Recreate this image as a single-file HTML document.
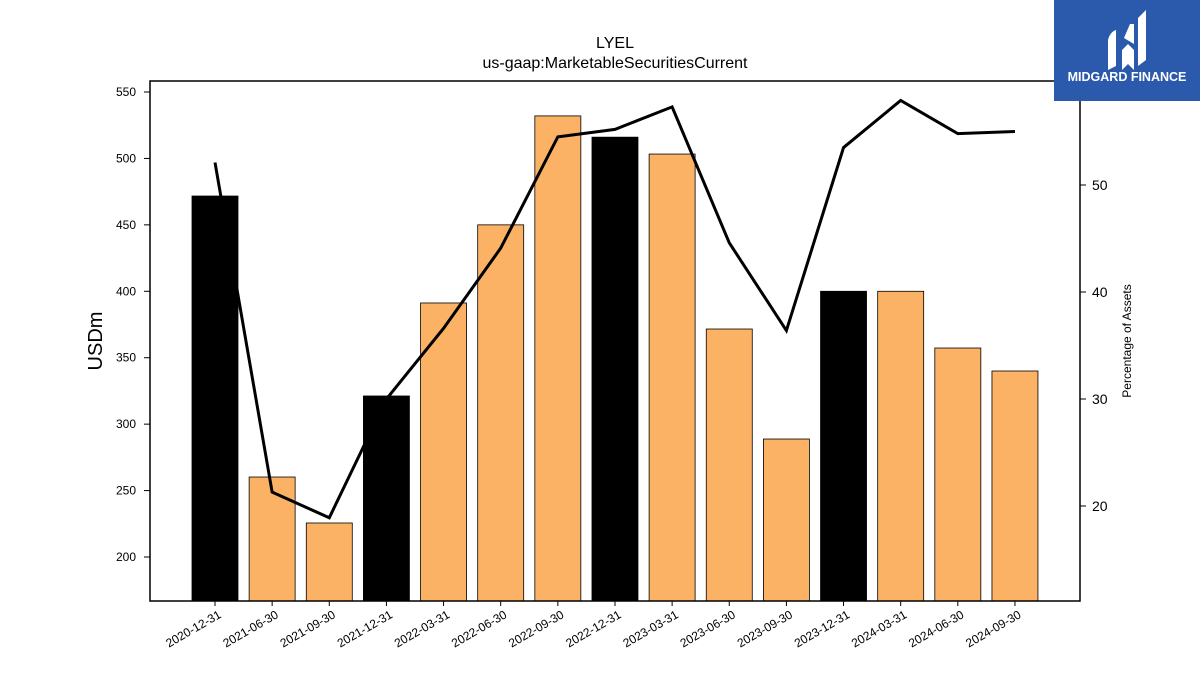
<!DOCTYPE html>
<html><head><meta charset="utf-8"><style>
html,body{margin:0;padding:0;background:#fff;}
svg{display:block;font-family:"Liberation Sans","DejaVu Sans",sans-serif;}
</style></head><body>
<svg id="chart" width="1200" height="675">
<rect x="0" y="0" width="1200" height="675" fill="#fff"/>
<text x="615" y="48" font-size="16" text-anchor="middle">LYEL</text>
<text x="615" y="68" font-size="16" text-anchor="middle">us-gaap:MarketableSecuritiesCurrent</text>
<g id="bars"></g>
<g id="xticks"></g>
<g id="yticks"></g>
<g id="rticks"></g>
<polyline id="pctline" fill="none" stroke="#000" stroke-width="3"/>
<rect x="150" y="81" width="930" height="520" fill="none" stroke="#000" stroke-width="1.5"/>
<text x="0" y="0" font-size="20" text-anchor="middle" transform="translate(102,341) rotate(-90)">USDm</text>
<text x="0" y="0" font-size="12" text-anchor="middle" transform="translate(1131,341) rotate(-90)">Percentage of Assets</text>
<g>
<rect x="1054" y="0" width="146" height="101" fill="#2b5aad"/>
<path d="M1108 70 L1108 40 Q1110 32 1116 30 L1116 66 Z" fill="#fff"/>
<path d="M1122 70 L1122 50 L1128 44 L1134 50 L1134 70 L1128 64 Z" fill="#fff"/>
<path d="M1124 38 L1130 24 L1134 24 L1134 44 Z" fill="#fff"/>
<path d="M1138 66 L1138 18 L1146 10 L1146 60 Z" fill="#fff"/>
<text x="1127" y="81" font-size="12.5" font-weight="bold" fill="#fff" text-anchor="middle">MIDGARD FINANCE</text>
</g>
</svg>
<script>
const categories=["2020-12-31","2021-06-30","2021-09-30","2021-12-31","2022-03-31","2022-06-30","2022-09-30","2022-12-31","2023-03-31","2023-06-30","2023-09-30","2023-12-31","2024-03-31","2024-06-30","2024-09-30"];
const values=[471.7,260.2,225.6,321.2,391.2,450,532,516,503.3,371.6,288.8,400,400,357.3,340];
const pct=[52.1,21.3,18.9,30,36.6,44.1,54.5,55.2,57.3,44.6,36.4,53.5,57.9,54.8,55.0];
const leftTicks=[200,250,300,350,400,450,500,550];
const rightTicks=[20,30,40,50];
const NS="http://www.w3.org/2000/svg";
const yL=v=>557-(v-200)*(465/350);
const yR=v=>506-(v-20)*10.7;
const xB=i=>215+i*57.14;
const bars=document.getElementById('bars'),xt=document.getElementById('xticks'),yt=document.getElementById('yticks'),rt=document.getElementById('rticks');
function mk(t,a,p){const e=document.createElementNS(NS,t);for(const k in a)e.setAttribute(k,a[k]);p.appendChild(e);return e;}
categories.forEach((c,i)=>{
 const x=xB(i),top=yL(values[i]);
 const r=mk('rect',{x:x-23,y:top,width:46,height:601-top,fill:c.endsWith('12-31')?'#000':'#fbb264',stroke:'#000','stroke-width':0.8},bars);
 
 
 mk('line',{x1:x,x2:x,y1:601,y2:606,stroke:'#000'},xt);
 const t=mk('text',{x:0,y:0,'font-size':12,'text-anchor':'end',transform:`translate(${x+7},${617}) rotate(-30)`},xt);
 t.textContent=c;
 
 
});
leftTicks.forEach(v=>{const y=yL(v);mk('line',{x1:144,x2:150,y1:y,y2:y,stroke:'#000'},yt);
 const t=mk('text',{x:136,y:y+4,'font-size':12,'text-anchor':'end'},yt);t.textContent=v;
 
 });
rightTicks.forEach(v=>{const y=yR(v);mk('line',{x1:1080,x2:1086,y1:y,y2:y,stroke:'#000'},rt);
 const t=mk('text',{x:1092,y:y+5,'font-size':14},rt);t.textContent=v;
 
 });
document.getElementById('pctline').setAttribute('points',pct.map((p,i)=>xB(i)+','+yR(p)).join(' '));
</script>
</body></html>
